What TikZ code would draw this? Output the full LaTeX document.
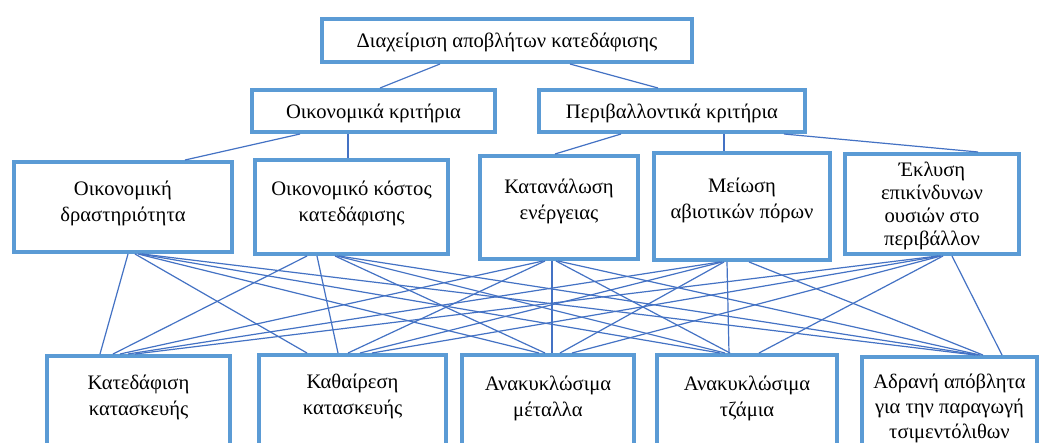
\documentclass[tikz,border=0pt]{standalone}
\usepackage{fontspec}
\setmainfont{Liberation Serif}
\definecolor{boxblue}{HTML}{5B9BD5}
\definecolor{wireblue}{HTML}{4472C4}
% #1 name, #2 x, #3 y (top-left), #4 width, #5 height, #6 first baseline below top, #7 text
\newcommand{\critbox}[7]{%
  \node[box, minimum width=#4pt, minimum height=#5pt] (#1) at (#2,#3)
    {\parbox[t][#5pt][t]{#4pt}{\centering\rule{0pt}{#6pt}#7}};}
% connector from the bottom side of #1 (offset #2 from its left edge)
% to the top side of #3 (offset #4 from its left edge)
\newcommand{\wire}[4]{\draw[wire] ([xshift=#2pt]#1.south west) -- ([xshift=#4pt]#3.north west);}
\begin{document}
\begin{tikzpicture}[x=1pt,y=-1pt,
  box/.style={draw=boxblue, line width=4pt, fill=white, rectangle, inner sep=0pt, anchor=north west},
  wire/.style={draw=wireblue, line width=1.2pt},
  font=\fontsize{20.6}{26}\selectfont]
\useasboundingbox (0,0) rectangle (1039,442);
\clip (0,0) rectangle (1039,442);
\fill[white] (0,0) rectangle (1039,442);

% goal
\critbox{root}{320}{17}{370}{43}{28}{Διαχείριση αποβλήτων κατεδάφισης}
% criteria groups
\critbox{econ}{250}{88}{243}{42}{28}{Οικονομικά κριτήρια}
\critbox{env}{537}{88}{266}{42}{28}{Περιβαλλοντικά κριτήρια}
% criteria
\critbox{act}{12}{160}{218}{90}{33}{Οικονομική\\δραστηριότητα}
\critbox{cost}{253}{158}{193}{94}{35}{Οικονομικό κόστος\\κατεδάφισης}
\critbox{energy}{478}{154}{158}{103}{37}{Κατανάλωση\\ενέργειας}
\critbox{abiotic}{652}{151}{176}{107}{39}{Μείωση\\αβιοτικών πόρων}
\critbox{leach}{843}{152}{174}{100}{22}{\fontsize{20.6}{23}\selectfont Έκλυση\\επικίνδυνων\\ουσιών στο\\περιβάλλον}
% alternatives
\critbox{demol}{45}{354}{183}{110}{33}{Κατεδάφιση\\κατασκευής}
\critbox{dism}{257}{353}{187}{110}{33}{Καθαίρεση\\κατασκευής}
\critbox{metals}{460}{353}{172}{110}{35}{Ανακυκλώσιμα\\μέταλλα}
\critbox{glass}{655}{353}{180}{110}{35}{Ανακυκλώσιμα\\τζάμια}
\critbox{inert}{860}{355}{175}{110}{31}{\fontsize{20.6}{25}\selectfont Αδρανή απόβλητα\\για την παραγωγή\\τσιμεντόλιθων}

% hierarchy links
\wire{root}{120}{econ}{130}
\wire{root}{250}{env}{121}
\wire{econ}{50}{act}{173}
\wire{econ}{98}{cost}{95}
\wire{env}{84}{energy}{77}
\wire{env}{187}{abiotic}{72}
\wire{env}{247}{leach}{135}

% every criterion linked to every alternative
\wire{act}{116}{demol}{55}
\wire{act}{123}{dism}{50}
\wire{act}{126}{metals}{79}
\wire{act}{128}{glass}{65}
\wire{act}{130}{inert}{115}

\wire{cost}{54}{demol}{68}
\wire{cost}{64}{dism}{81}
\wire{cost}{82}{metals}{85}
\wire{cost}{84}{glass}{70}
\wire{cost}{86}{inert}{118}

\wire{energy}{65}{demol}{75}
\wire{energy}{67}{dism}{91}
\wire{energy}{74}{metals}{92}
\wire{energy}{78}{glass}{75}
\wire{energy}{80}{inert}{120}

\wire{abiotic}{68}{demol}{83}
\wire{abiotic}{70}{dism}{103}
\wire{abiotic}{72}{metals}{100}
\wire{abiotic}{75}{glass}{74}
\wire{abiotic}{97}{inert}{123}

\wire{leach}{95}{demol}{90}
\wire{leach}{97}{dism}{115}
\wire{leach}{98}{metals}{112}
\wire{leach}{100}{glass}{104}
\wire{leach}{109}{inert}{142}
\end{tikzpicture}
\end{document}
